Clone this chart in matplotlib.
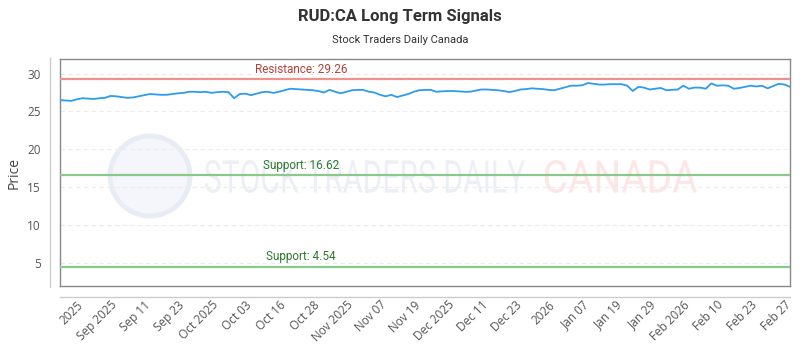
"""RUD:CA long term signals chart (price with support / resistance levels)."""

import matplotlib

matplotlib.use("Agg")

import matplotlib.pyplot as plt
from matplotlib.font_manager import FontProperties
from matplotlib.lines import Line2D
from matplotlib.patches import Circle, PathPatch
from matplotlib.textpath import TextPath
from matplotlib.transforms import Affine2D, IdentityTransform

plt.rcParams["font.family"] = ["Open Sans", "DejaVu Sans"]

TITLE = "RUD:CA Long Term Signals"
SUBTITLE = "Stock Traders Daily Canada"

# daily closes
price = [
    26.5, 26.45, 26.4, 26.6, 26.75, 26.7, 26.65, 26.75, 26.8, 27.05,
    27.0, 26.9, 26.8, 26.85, 27.0, 27.15, 27.3, 27.25, 27.2, 27.2,
    27.3, 27.4, 27.45, 27.6, 27.6, 27.55, 27.6, 27.45, 27.55, 27.6,
    27.55, 26.75, 27.3, 27.35, 27.15, 27.35, 27.55, 27.6, 27.45, 27.6,
    27.8, 28.0, 27.95, 27.9, 27.85, 27.8, 27.7, 27.5, 27.85, 27.6,
    27.4, 27.6, 27.8, 27.85, 27.85, 27.6, 27.5, 27.2, 27.0, 27.2,
    26.9, 27.1, 27.3, 27.6, 27.8, 27.85, 27.85, 27.6, 27.65, 27.7,
    27.7, 27.65, 27.6, 27.6, 27.75, 27.9, 27.9, 27.85, 27.8, 27.7,
    27.55, 27.7, 27.9, 27.95, 28.05, 28.0, 27.95, 27.85, 27.8, 28.0,
    28.2, 28.4, 28.4, 28.45, 28.75, 28.65, 28.55, 28.55, 28.6, 28.6,
    28.6, 28.4, 27.7, 28.25, 28.15, 27.9, 28.0, 28.1, 27.8, 27.85,
    27.9, 28.4, 28.0, 28.15, 28.15, 28.0, 28.7, 28.4, 28.45, 28.4,
    28.0, 28.1, 28.25, 28.4, 28.3, 28.4, 28.05, 28.35, 28.65, 28.55,
    28.25,
]

tick_labels = [
    "2025", "Sep 2025", "Sep 11", "Sep 23", "Oct 2025", "Oct 03", "Oct 16",
    "Oct 28", "Nov 2025", "Nov 07", "Nov 19", "Dec 2025", "Dec 11", "Dec 23",
    "2026", "Jan 07", "Jan 19", "Jan 29", "Feb 2026", "Feb 10", "Feb 23",
    "Feb 27",
]

resistance = [29.26]
support = [16.62, 4.54]

W, H = 800, 350
fig = plt.figure(figsize=(8, 3.5), dpi=100)
ax = fig.add_axes([0.075, 0.183, 0.9125, 0.648])
ax.set_zorder(1)


def watermark_text(s, x0, x1, y0, y1, color):
    """Squeeze a text path into the pixel box (x0..x1, y0..y1), y from the top."""
    tp = TextPath((0, 0), s, size=50, prop=FontProperties(family="Roboto"))
    bb = tp.get_extents()
    tr = (Affine2D().translate(-bb.x0, -bb.y0)
          .scale((x1 - x0) / bb.width, (y1 - y0) / bb.height)
          .translate(x0, H - y1))
    patch = PathPatch(tr.transform_path(tp), facecolor=color, edgecolor="none",
                      transform=IdentityTransform(), zorder=0.5)
    fig.add_artist(patch)


x = list(range(len(price)))
ax.plot(x, price, color="#2c9cf0", lw=1.3, zorder=5)

for level in resistance:
    ax.axhline(level, color="#f0928c", lw=1.6, zorder=3)
    ax.text(0.33, level + 0.45, f"Resistance: {level:.2f}", transform=ax.get_yaxis_transform(),
            ha="center", va="bottom", color="#b5403a", fontsize=8.5, family="Roboto")
for level in support:
    ax.axhline(level, color="#8cc88c", lw=1.6, zorder=3)
    ax.text(0.33, level + 0.45, f"Support: {level:.2f}", transform=ax.get_yaxis_transform(),
            ha="center", va="bottom", color="#2f7a2f", fontsize=8.5, family="Roboto")

ax.set_xlim(0, len(price) - 1)
ax.set_ylim(2.0, 31.9)
ax.set_yticks([5, 10, 15, 20, 25, 30])
ax.set_xticks(list(range(3, len(price), 6)))
ax.set_xticklabels(tick_labels, rotation=45, ha="right", rotation_mode="anchor")
ax.tick_params(axis="both", length=0, labelsize=8.5, labelcolor="#555555")
ax.tick_params(axis="x", pad=9)
ax.tick_params(axis="y", pad=14)
ax.grid(axis="y", color="#ececec", lw=0.8, ls=(0, (4, 3)))
ax.set_axisbelow(True)
ax.patch.set_alpha(0)
for spine in ax.spines.values():
    spine.set_color("#888888")
    spine.set_linewidth(1.0)
ax.set_ylabel("Price", fontsize=10, color="#444444", labelpad=4)

# watermark (drawn under the axes)
fig.add_artist(Circle((150, H - 176), 40, transform=IdentityTransform(),
                      facecolor="#f4f6fb", edgecolor="#e8ecf4", lw=3.5, zorder=0.4))
watermark_text("STOCK TRADERS DAILY", 205, 525, 160, 193, "#eceff5")
watermark_text("CANADA", 545, 697, 160, 193, "#fce6e6")

# offset axis lines
fig.add_artist(Line2D([50 / W, 50 / W], [1 - 58 / H, 1 - 287 / H],
                      color="#cccccc", lw=1.0, transform=fig.transFigure))
fig.add_artist(Line2D([60 / W, 790 / W], [1 - 297 / H, 1 - 297 / H],
                      color="#cccccc", lw=1.0, transform=fig.transFigure))

fig.text(0.5, 1 - 16 / H, TITLE, ha="center", va="center", fontsize=12,
         fontweight="bold", color="#333333", family="Roboto")
fig.text(0.5, 1 - 40 / H, SUBTITLE, ha="center", va="center", fontsize=8,
         color="#333333", family="Roboto")

fig.savefig("out.png", dpi=100)
